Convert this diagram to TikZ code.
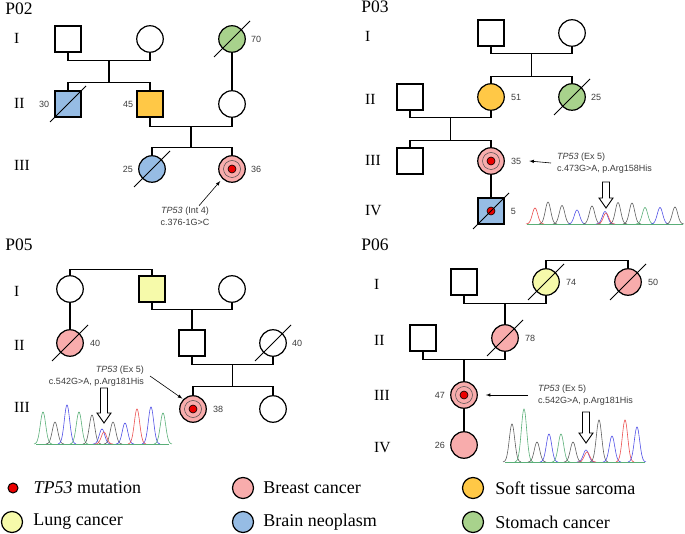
\documentclass[tikz,border=0pt]{standalone}
\usepackage{fontspec}
\setmainfont{Liberation Serif}
\setsansfont{Liberation Sans}
\usetikzlibrary{positioning,calc}

\definecolor{breast}{RGB}{248,172,172}
\definecolor{sarcoma}{RGB}{255,200,70}
\definecolor{lung}{RGB}{246,250,170}
\definecolor{brain}{RGB}{150,188,228}
\definecolor{stomach}{RGB}{168,210,140}
\definecolor{mutred}{RGB}{235,0,0}
\definecolor{agegray}{RGB}{60,60,60}
\definecolor{trgray}{RGB}{95,95,95}
\definecolor{trgreen}{RGB}{90,175,120}
\definecolor{trblue}{RGB}{80,80,230}
\definecolor{trred}{RGB}{235,80,80}

\tikzset{
  male/.style={draw, line width=1.2pt, minimum size=26pt, inner sep=0pt},
  female/.style={circle, draw, line width=1.2pt, minimum size=26.5pt, inner sep=0pt},
  pedline/.style={line width=1.2pt},
  gen/.style={anchor=west, inner sep=0pt, font=\fontsize{15.5}{16}\selectfont},
  fam/.style={inner sep=0pt, font=\fontsize{17.5}{18}\selectfont},
  age/.style={inner sep=0pt, text=agegray, font=\sffamily\fontsize{9}{10}\selectfont},
  muttext/.style={inner sep=1pt, text=agegray, font=\sffamily\fontsize{9}{12.5}\selectfont},
  keytext/.style={inner sep=0pt, anchor=west, font=\fontsize{18}{20}\selectfont},
  keydot/.style={circle, draw, line width=1.2pt, minimum size=21pt, inner sep=0pt},
}

% slash for a deceased person
\newcommand{\deceased}[1]{\draw[line width=1pt] ([shift={(-18,18)}]#1.center) -- ([shift={(18,-18)}]#1.center);}
% TP53 carrier mark
\newcommand{\carrier}[1]{\draw[line width=0.5pt, black!70] (#1.center) circle (8.5pt);
  \draw[line width=0.6pt, fill=mutred] (#1.center) circle (4pt);}
% one peak of a trace
\newcommand{\trpeak}[4]{\draw[#4, line width=0.6pt] plot[domain=#1-9:#1+9, samples=31, smooth] (\x, {#3-#2*exp(-((\x-#1)/3.8)^2)});}
% open arrow over the trace
\newcommand{\openarrow}[4]{\draw[line width=0.9pt, fill=white] (#1-3.5,#2) -- (#1+3.5,#2) -- (#1+3.5,#3) -- (#1+7,#3) -- (#1,#4) -- (#1-7,#3) -- (#1-3.5,#3) -- cycle;}

\begin{document}
\begin{tikzpicture}[x=1pt, y=-1pt]
        \useasboundingbox (0,0) rectangle (685,534);

        % ---------------- P02 ----------------
        \node[fam] (t02) at (19,9) {P02};
        \node[gen] (g02a) at (14,38) {I};
        \node[gen] (g02b) at (14,103) {II};
        \node[gen] (g02c) at (14,165) {III};

        \node[male] (p2a1) at (68,39) {};
        \node[female] (p2a2) at (150,39) {};
        \node[female, fill=stomach] (p2a3) at (232,39) {};
        \node[male, fill=brain] (p2b1) at (68,104) {};
        \node[male, fill=sarcoma] (p2b2) at (150,104) {};
        \node[female] (p2b3) at (232,104) {};
        \node[female, fill=brain] (p2c1) at (152,169) {};
        \node[female, fill=breast] (p2c2) at (232,169) {};
        \carrier{p2c2}
        \deceased{p2a3}
        \deceased{p2b1}
        \deceased{p2c1}

        \node[age, right=5pt of p2a3] (p2a3age) {70};
        \node[age, left=5pt of p2b1] (p2b1age) {30};
        \node[age, left=3pt of p2b2] (p2b2age) {45};
        \node[age, left=5pt of p2c1] (p2c1age) {25};
        \node[age, right=5pt of p2c2] (p2c2age) {36};

        \draw[pedline] (p2a1.south) -- ++(0,8) -| (p2a2.south);
        \coordinate (p2m1) at ($(p2a1.south)!0.5!(p2a2.south)+(0,8)$);
        \draw[pedline] (p2m1) -- ++(0,22) coordinate (p2s1);
        \draw[pedline] (p2b1.north) |- (p2s1) -| (p2b2.north);
        \draw[pedline] (p2a3.south) -- (p2b3.north);
        \draw[pedline] (p2b2.south) -- ++(0,9) -| (p2b3.south);
        \coordinate (p2m2) at ($(p2b2.south)!0.5!(p2b3.south)+(0,9)$);
        \draw[pedline] (p2m2) -- ++(0,21) coordinate (p2s2);
        \draw[pedline] (p2c1.north) |- (p2s2) -| (p2c2.north);

        \node[muttext, align=center] (tx02) at (185,216.5) {\textit{TP53} (Int 4)\\c.376-1G>C};
        \draw[-latex, line width=0.6pt, shorten >=3pt] ([xshift=14pt]tx02.north) -- (p2c2.south west);

        % ---------------- P03 ----------------
        \node[fam] (t03) at (375,7) {P03};
        \node[gen] (g03a) at (365,36) {I};
        \node[gen] (g03b) at (365,99) {II};
        \node[gen] (g03c) at (365,160) {III};
        \node[gen] (g03d) at (365,211) {IV};

        \node[male] (p3a1) at (491,33) {};
        \node[female] (p3a2) at (572,33) {};
        \node[male] (p3b1) at (410,97) {};
        \node[female, fill=sarcoma] (p3b2) at (491,97) {};
        \node[female, fill=stomach] (p3b3) at (572,97) {};
        \node[male] (p3c1) at (410,161) {};
        \node[female, fill=breast] (p3c2) at (491,161) {};
        \node[male, fill=brain] (p3d1) at (491,211) {};
        \carrier{p3c2}
        \draw[line width=0.6pt, fill=mutred] (p3d1.center) circle (4pt);
        \deceased{p3b3}
        \deceased{p3d1}

        \node[age, right=6pt of p3b2] (p3b2age) {51};
        \node[age, right=5pt of p3b3] (p3b3age) {25};
        \node[age, right=6pt of p3c2] (p3c2age) {35};
        \node[age, right=6pt of p3d1] (p3d1age) {5};

        \draw[pedline] (p3a1.south) -- ++(0,7) -| (p3a2.south);
        \coordinate (p3m1) at ($(p3a1.south)!0.5!(p3a2.south)+(0,7)$);
        \draw[pedline] (p3m1) -- ++(0,23) coordinate (p3s1);
        \draw[pedline] (p3b2.north) |- (p3s1) -| (p3b3.north);
        \draw[pedline] (p3b1.south) -- ++(0,7) -| (p3b2.south);
        \coordinate (p3m2) at ($(p3b1.south)!0.5!(p3b2.south)+(0,7)$);
        \draw[pedline] (p3m2) -- ++(0,23) coordinate (p3s2);
        \draw[pedline] (p3c1.north) |- (p3s2) -| (p3c2.north);
        \draw[pedline] (p3c2.south) -- (p3d1.north);

        \node[muttext, align=left, anchor=west] (tx03) at (556,163) {\textit{TP53} (Ex 5)\\c.473G>A, p.Arg158His};
        \draw[-latex, line width=0.6pt] ([xshift=-5pt]tx03.west) -- ([xshift=8pt]p3c2age.east);

        % trace
        \draw[trgreen, line width=0.6pt] (527,224) -- (683,224);
        \foreach \px/\ph/\pc in {535/16/trred, 548/22/trgray, 562/18.5/trgray, 577/14/trblue,
            592/18/trgray, 605/12.5/trblue, 606/11/trred, 618/21.5/trgray, 632/21/trgray,
            645/16.5/trgreen, 660/16.5/trblue, 675/17/trgray}
            {\trpeak{\px}{\ph}{224}{\pc}}
        \openarrow{606}{182}{198}{208}

        % ---------------- P05 ----------------
        \node[fam] (t05) at (19,245) {P05};
        \node[gen] (g05a) at (14,291) {I};
        \node[gen] (g05b) at (14,345) {II};
        \node[gen] (g05c) at (14,407) {III};

        \node[female] (p5a1) at (70,289) {};
        \node[male, fill=lung] (p5a2) at (152,289) {};
        \node[female] (p5a3) at (232,289) {};
        \node[female, fill=breast] (p5b1) at (70,343) {};
        \node[male] (p5b2) at (192,343) {};
        \node[female] (p5b3) at (273,343) {};
        \node[female, fill=breast] (p5c1) at (193,409) {};
        \node[female] (p5c2) at (273,409) {};
        \carrier{p5c1}
        \deceased{p5b1}
        \deceased{p5b3}

        \node[age, right=6pt of p5b1] (p5b1age) {40};
        \node[age, right=5pt of p5b3] (p5b3age) {40};
        \node[age, right=6pt of p5c1] (p5c1age) {38};

        \draw[pedline] (p5a1.north) -- ++(0,-6) -| (p5a2.north);
        \draw[pedline] (p5a2.south) -- ++(0,7) -| (p5a3.south);
        \draw[pedline] (p5a1.south) -- (p5b1.north);
        \coordinate (p5m1) at ($(p5a2.south)!0.5!(p5a3.south)+(0,7)$);
        \draw[pedline] (p5m1) -- (p5b2.north);
        \draw[pedline] (p5b2.south) -- ++(0,8) -| (p5b3.south);
        \coordinate (p5m2) at ($(p5b2.south)!0.5!(p5b3.south)+(0,8)$);
        \draw[pedline] (p5m2) -- ++(0,22) coordinate (p5s1);
        \draw[pedline] (p5c1.north) |- (p5s1) -| (p5c2.north);

        \node[muttext, align=right, anchor=east] (tx05) at (145,376) {\textit{TP53} (Ex 5)\\c.542G>A, p.Arg181His};
        \draw[-latex, line width=0.6pt, shorten >=1pt] ([xshift=5pt]tx05.east) -- (p5c1.north west);

        % trace
        \draw[trgreen, line width=0.6pt] (36,444) -- (169,444);
        \foreach \px/\ph/\pc in {43/32/trgreen, 55/22/trgray, 67/39/trblue, 79/32/trgreen,
            92/29/trgray, 102/15/trblue, 104/12/trred, 113/22/trgray, 125/21/trblue,
            137/35/trred, 151/37/trblue, 163/31/trgreen}
            {\trpeak{\px}{\ph}{444}{\pc}}
        \openarrow{104}{388}{413}{423}

        % ---------------- P06 ----------------
        \node[fam] (t06) at (375,245) {P06};
        \node[gen] (g06a) at (374,284) {I};
        \node[gen] (g06b) at (374,340) {II};
        \node[gen] (g06c) at (374,395) {III};
        \node[gen] (g06d) at (374,448) {IV};

        \node[male] (p6a1) at (464,282) {};
        \node[female, fill=lung] (p6a2) at (546,282) {};
        \node[female, fill=breast] (p6a3) at (628,282) {};
        \node[male] (p6b1) at (423,338) {};
        \node[female, fill=breast] (p6b2) at (505,338) {};
        \node[female, fill=breast] (p6c1) at (464,395) {};
        \node[female, fill=breast] (p6d1) at (464,445) {};
        \carrier{p6c1}
        \deceased{p6a2}
        \deceased{p6a3}
        \deceased{p6b2}

        \node[age, right=6pt of p6a2] (p6a2age) {74};
        \node[age, right=6pt of p6a3] (p6a3age) {50};
        \node[age, right=6pt of p6b2] (p6b2age) {78};
        \node[age, left=5pt of p6c1] (p6c1age) {47};
        \node[age, left=5pt of p6d1] (p6d1age) {26};

        \draw[pedline] (p6a2.north) -- ++(0,-8) -| (p6a3.north);
        \draw[pedline] (p6a1.south) -- ++(0,8) -| (p6a2.south);
        \coordinate (p6m1) at ($(p6a1.south)!0.5!(p6a2.south)+(0,8)$);
        \draw[pedline] (p6m1) -- (p6b2.north);
        \draw[pedline] (p6b1.south) -- ++(0,8) -| (p6b2.south);
        \coordinate (p6m2) at ($(p6b1.south)!0.5!(p6b2.south)+(0,8)$);
        \draw[pedline] (p6m2) -- (p6c1.north);
        \draw[pedline] (p6c1.south) -- (p6d1.north);

        \node[muttext, align=left, anchor=west] (tx06) at (537,395) {\textit{TP53} (Ex 5)\\c.542G>A, p.Arg181His};
        \draw[-latex, line width=0.6pt, shorten >=8pt] ([xshift=-9pt]tx06.west) -- (p6c1.east);

        % trace
        \draw[trgreen, line width=0.6pt] (505,462) -- (645,462);
        \foreach \px/\ph/\pc in {512/38/trgray, 524/53/trgreen, 537/20/trgray, 549/28/trblue,
            561/28/trgreen, 573/20/trgray, 586/12/trblue, 587/10/trred, 599/42/trgray,
            612/26/trblue, 625/42/trred, 637/35/trblue}
            {\trpeak{\px}{\ph}{462}{\pc}}
        \openarrow{586}{412}{433}{443}

        % ---------------- legend ----------------
        \node[circle, draw, line width=1pt, fill=mutred, minimum size=10pt, inner sep=0pt] (kmut) at (13,488) {};
        \node[keytext, right=15pt of kmut] (kmuttx) {\textit{TP53} mutation};
        \node[keydot, fill=breast] (kbreast) at (243,488) {};
        \node[keytext, right=9pt of kbreast] (kbreasttx) {Breast cancer};
        \node[keydot, fill=sarcoma] (ksarc) at (473,488) {};
        \node[keytext, right=11pt of ksarc] (ksarctx) {Soft tissue sarcoma};
        \node[keydot, fill=lung] (klung) at (12,522) {};
        \node[keytext, right=10pt of klung] (klungtx) {Lung cancer};
        \node[keydot, fill=brain] (kbrain) at (243,522) {};
        \node[keytext, right=9pt of kbrain] (kbraintx) {Brain neoplasm};
        \node[keydot, fill=stomach] (kstom) at (473,522) {};
        \node[keytext, right=11pt of kstom] (kstomtx) {Stomach cancer};
\end{tikzpicture}
\end{document}
